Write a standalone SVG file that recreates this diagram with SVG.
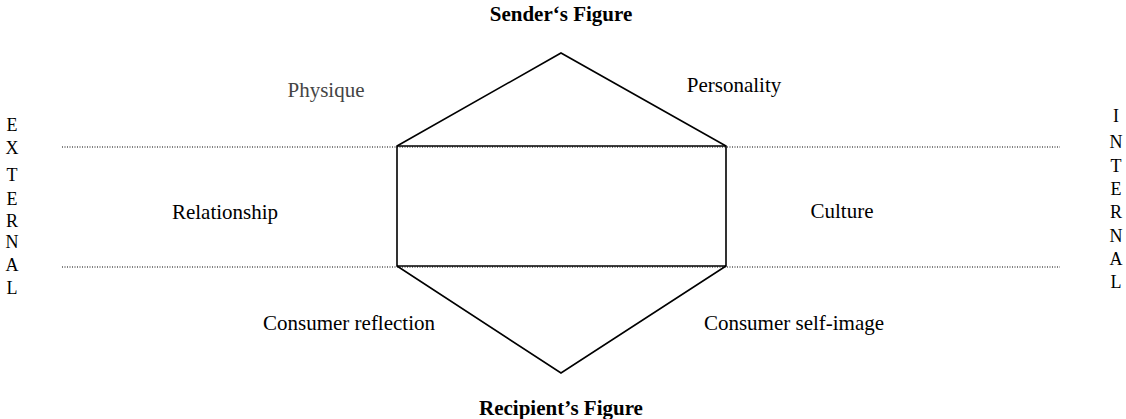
<svg xmlns="http://www.w3.org/2000/svg" width="1126" height="419" viewBox="0 0 1126 419">
<style>
text{font-family:'Liberation Serif','DejaVu Serif',serif;fill:#000}
.lbl{font-size:21px;text-anchor:middle}
.ttl{font-size:21px;font-weight:bold;text-anchor:middle}
.side{font-size:18px;text-anchor:middle}
.shape{fill:none;stroke:#000;stroke-width:1.6}
.dot{stroke:#000;stroke-width:1;stroke-dasharray:1 1.5;fill:none}
</style>
<rect width="1126" height="419" fill="#fff"/>
<g id="boundaries">
<line class="dot" x1="62" y1="147" x2="1060" y2="147"/>
<line class="dot" x1="62" y1="267" x2="1060" y2="267"/>
</g>
<g id="prism">
<polygon class="shape" points="397,146 561,53 726,146 726,266 561,373 397,266"/>
<line class="shape" x1="397" y1="146" x2="726" y2="146"/>
<line class="shape" x1="397" y1="266" x2="726" y2="266"/>
</g>
<g id="sender"><text class="ttl" x="561" y="21">Sender‘s Figure</text></g>
<g id="recipient"><text class="ttl" x="561" y="415">Recipient’s Figure</text></g>
<g id="physique"><text class="lbl" x="326" y="97" style="fill:#444">Physique</text></g>
<g id="personality"><text class="lbl" x="734" y="92">Personality</text></g>
<g id="relationship"><text class="lbl" x="225" y="219">Relationship</text></g>
<g id="culture"><text class="lbl" x="842" y="218">Culture</text></g>
<g id="reflection"><text class="lbl" x="349" y="330">Consumer reflection</text></g>
<g id="selfimage"><text class="lbl" x="794" y="330">Consumer self-image</text></g>
<g id="external">
<text class="side" x="12" y="131">E</text>
<text class="side" x="12" y="154">X</text>
<text class="side" x="12" y="181">T</text>
<text class="side" x="12" y="205">E</text>
<text class="side" x="12" y="227">R</text>
<text class="side" x="12" y="248">N</text>
<text class="side" x="12" y="271">A</text>
<text class="side" x="12" y="294">L</text>
</g>
<g id="internal">
<text class="side" x="1116" y="122">I</text>
<text class="side" x="1116" y="148">N</text>
<text class="side" x="1116" y="172">T</text>
<text class="side" x="1116" y="195">E</text>
<text class="side" x="1116" y="218">R</text>
<text class="side" x="1116" y="242">N</text>
<text class="side" x="1116" y="265">A</text>
<text class="side" x="1116" y="288">L</text>
</g>
</svg>
